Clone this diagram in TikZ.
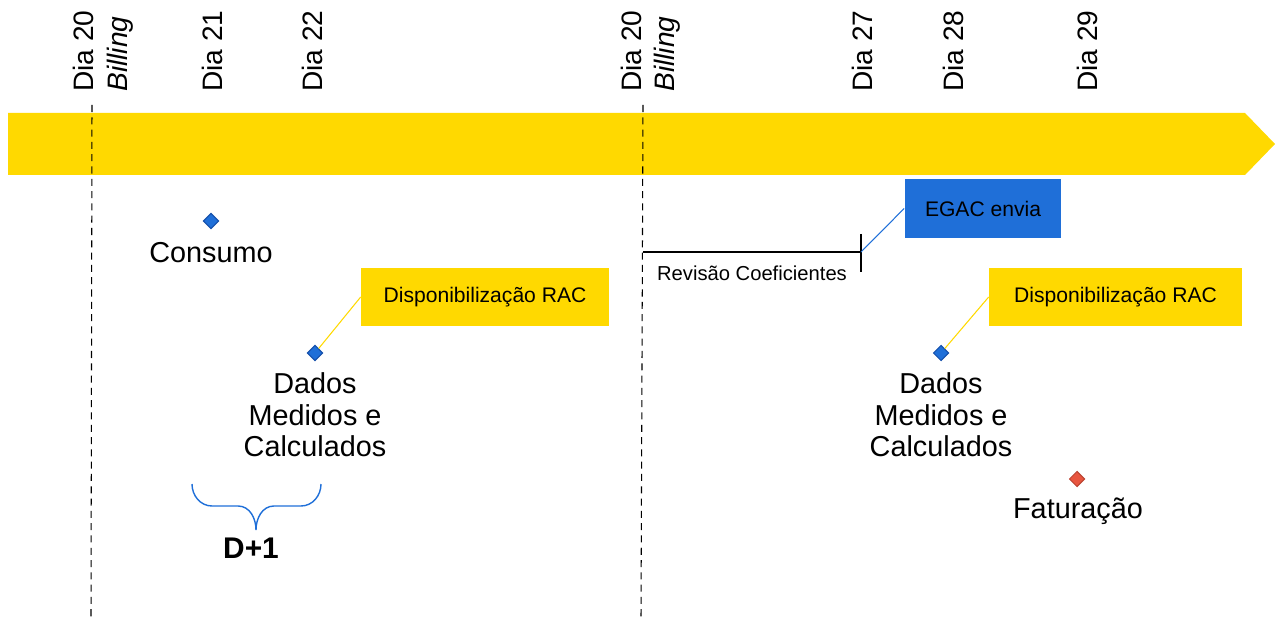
\documentclass[tikz,border=0pt]{standalone}
\usepackage{fontspec}
\setmainfont{Liberation Sans}
\usetikzlibrary{positioning}
\usetikzlibrary{shapes.geometric}
\definecolor{amarelo}{RGB}{255,217,0}
\definecolor{azul}{RGB}{31,111,216}
\definecolor{azulesc}{RGB}{22,80,170}
\definecolor{vermelho}{RGB}{232,85,63}
\tikzset{
  dia/.style={rotate=90,anchor=west,inner sep=0pt,font=\fontsize{16}{19}\selectfont},
  marco/.style={diamond,draw=azulesc,fill=azul,line width=0.6pt,minimum size=8.8pt,inner sep=0pt},
  evento/.style={align=center,inner sep=0pt,font=\fontsize{16.4}{18.2}\selectfont},
  caixa/.style={fill=amarelo,minimum width=4.96cm,minimum height=1.16cm,font=\fontsize{12}{14}\selectfont},
  corte/.style={dashed,dash pattern=on 4pt off 3pt,line width=0.6pt}
}
\begin{document}
\begin{tikzpicture}[x=0.02cm,y=-0.02cm]
\useasboundingbox (0,0) rectangle (1275,618);
\fill[amarelo] (8,113) -- (1245,113) -- (1275,144) -- (1245,175) -- (8,175) -- cycle;

\node[dia] (d20a) at (83,92) {Dia 20};
\node[dia] (bila) at (120,92) {\itshape Billing};
\node[dia] (d21) at (212,92) {Dia 21};
\node[dia] (d22) at (312,92) {Dia 22};
\node[dia] (d20b) at (631,92) {Dia 20};
\node[dia] (bilb) at (667,92) {\itshape Billing};
\node[dia] (d27) at (862,92) {Dia 27};
\node[dia] (d28) at (953,92) {Dia 28};
\node[dia] (d29) at (1087,92) {Dia 29};

\coordinate (ta) at (92,105);
\coordinate (ba) at (91,618);
\coordinate (tb) at (643,105);
\coordinate (bb) at (641,618);
\draw[corte] (ta) -- (ba);
\draw[corte] (tb) -- (bb);

\node[marco] (consumo) at (211,221) {};
\node[evento] (lconsumo) at (211,253) {Consumo};

\node[marco] (dados1) at (315,353) {};
\node[evento,below=6pt of dados1] (ldados1) {Dados\\Medidos e\\Calculados};
\node[caixa] (rac1) at (485,297) {Disponibilização RAC};
\draw[amarelo,line width=0.6pt] (rac1.west) -- (dados1);

\coordinate (b1) at (192,484);
\coordinate (b2) at (321,484);
\coordinate (bm) at (256,530);
\draw[azul,line width=0.8pt] (b1) to[out=-90,in=180] (212,506) -- (238,506)
  to[out=0,in=90] (bm) to[out=90,in=180] (274,506) -- (301,506) to[out=0,in=-90] (b2);
\node[font=\fontsize{17}{20}\selectfont\bfseries] (d1) at (251,548) {D+1};

\coordinate (r0) at (643,252);
\coordinate (r1) at (861,252);
\coordinate (rt) at (861,234);
\coordinate (rb) at (861,272);
\draw[line width=0.8pt] (r0) -- (r1);
\draw[line width=0.8pt] (rt) -- (rb);
\node[font=\fontsize{11.5}{14}\selectfont] (rev) at (752,273) {Revisão Coeficientes};
\node[fill=azul,minimum width=3.14cm,minimum height=1.18cm,font=\fontsize{12}{14}\selectfont] (egac) at (983,208.5) {EGAC envia};
\draw[azul,line width=0.6pt] (r1) -- (egac.west);

\node[marco] (dados2) at (941,353) {};
\node[evento,below=6pt of dados2] (ldados2) {Dados\\Medidos e\\Calculados};
\node[caixa,minimum width=5.06cm] (rac2) at (1115.5,297) {Disponibilização RAC};
\draw[amarelo,line width=0.6pt] (rac2.west) -- (dados2);

\node[marco,fill=vermelho,draw=vermelho!80!black] (fat) at (1077,479) {};
\node[evento] (lfat) at (1078,511) {Faturação};
\end{tikzpicture}
\end{document}
